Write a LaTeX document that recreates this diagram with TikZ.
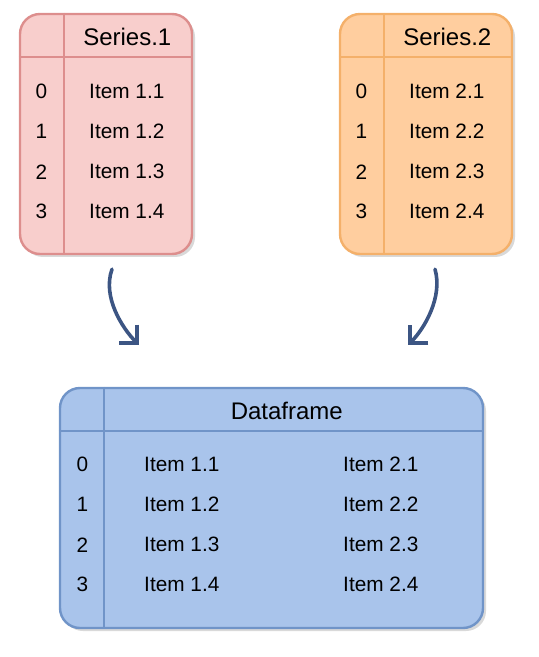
\documentclass[tikz,border=0pt]{standalone}
\usepackage{fontspec}
\setmainfont{Liberation Sans}
\usetikzlibrary{positioning}
\usetikzlibrary{shadows,arrows.meta}
\definecolor{redfill}{HTML}{F8CECC}
\definecolor{redline}{HTML}{DD8E8D}
\definecolor{orangefill}{HTML}{FFCE9F}
\definecolor{orangeline}{HTML}{F4B06A}
\definecolor{bluefill}{HTML}{A9C4EB}
\definecolor{blueline}{HTML}{7094C8}
\definecolor{arrowblue}{HTML}{3C5583}
\tikzset{auto, >={Straight Barb[length=6.5pt,width=13pt]}, node distance=20pt, font=\fontsize{10.4}{10.4}\selectfont}
\tikzstyle{table} = [draw, rectangle, rounded corners=10pt, line width=1.2pt, inner sep=0pt, drop shadow={shadow xshift=1.5pt, shadow yshift=-1.5pt, fill=black!25, opacity=0.6}]
\tikzstyle{cell} = [inner sep=0pt, on grid, anchor=center]
\tikzstyle{head} = [cell, font=\fontsize{12}{12}\selectfont]
\tikzstyle{rule} = [line width=1.2pt]
\tikzstyle{link} = [->, line width=1.8pt, line cap=round, line join=round, draw=arrowblue]

\begin{document}
\begin{tikzpicture}
    \useasboundingbox (0,0) rectangle (269.5pt,-328.5pt);
    % the two series
    \node [table, fill=redfill, draw=redline, minimum width=86pt, minimum height=120pt] (s1) at (53pt,-67pt) {};
    \node [table, fill=orangefill, draw=orangeline, minimum width=86pt, minimum height=120pt] (s2) at (213pt,-67pt) {};
    \node [table, fill=bluefill, draw=blueline, minimum width=211.5pt, minimum height=120pt] (df) at (135.75pt,-254pt) {};
    \draw [rule, redline] ([xshift=22.5pt]s1.north west) -- ([xshift=22.5pt]s1.south west);
    \draw [rule, redline] ([yshift=-22pt]s1.north west) -- ([yshift=-22pt]s1.north east);
    \draw [rule, orangeline] ([xshift=22.5pt]s2.north west) -- ([xshift=22.5pt]s2.south west);
    \draw [rule, orangeline] ([yshift=-22pt]s2.north west) -- ([yshift=-22pt]s2.north east);
    \draw [rule, blueline] ([xshift=22.5pt]df.north west) -- ([xshift=22.5pt]df.south west);
    \draw [rule, blueline] ([yshift=-22pt]df.north west) -- ([yshift=-22pt]df.north east);

    \node [head] (s1_head) at ([xshift=54.25pt,yshift=-12.3pt]s1.north west) {Series.1};
    \node [cell] (s1_i0) at ([xshift=11.25pt,yshift=-39.5pt]s1.north west) {0};
    \node [cell, below=of s1_i0] (s1_i1) {1};
    \node [cell, below=of s1_i1] (s1_i2) {2};
    \node [cell, below=of s1_i2] (s1_i3) {3};
    \node [cell, right=42.75pt of s1_i0] (s1_v0) {Item 1.1};
    \node [cell, right=42.75pt of s1_i1] (s1_v1) {Item 1.2};
    \node [cell, right=42.75pt of s1_i2] (s1_v2) {Item 1.3};
    \node [cell, right=42.75pt of s1_i3] (s1_v3) {Item 1.4};

    \node [head] (s2_head) at ([xshift=54.25pt,yshift=-12.3pt]s2.north west) {Series.2};
    \node [cell] (s2_i0) at ([xshift=11.25pt,yshift=-39.5pt]s2.north west) {0};
    \node [cell, below=of s2_i0] (s2_i1) {1};
    \node [cell, below=of s2_i1] (s2_i2) {2};
    \node [cell, below=of s2_i2] (s2_i3) {3};
    \node [cell, right=42.75pt of s2_i0] (s2_v0) {Item 2.1};
    \node [cell, right=42.75pt of s2_i1] (s2_v1) {Item 2.2};
    \node [cell, right=42.75pt of s2_i2] (s2_v2) {Item 2.3};
    \node [cell, right=42.75pt of s2_i3] (s2_v3) {Item 2.4};

    % the dataframe
    \node [head] (df_head) at ([xshift=114pt,yshift=-12pt]df.north west) {Dataframe};
    \node [cell] (df_i0) at ([xshift=11.75pt,yshift=-39pt]df.north west) {0};
    \node [cell, below=of df_i0] (df_i1) {1};
    \node [cell, below=of df_i1] (df_i2) {2};
    \node [cell, below=of df_i2] (df_i3) {3};
    \node [cell, right=49.75pt of df_i0] (df_a0) {Item 1.1};
    \node [cell, right=49.75pt of df_i1] (df_a1) {Item 1.2};
    \node [cell, right=49.75pt of df_i2] (df_a2) {Item 1.3};
    \node [cell, right=49.75pt of df_i3] (df_a3) {Item 1.4};
    \node [cell, right=99.5pt of df_a0] (df_b0) {Item 2.1};
    \node [cell, right=99.5pt of df_a1] (df_b1) {Item 2.2};
    \node [cell, right=99.5pt of df_a2] (df_b2) {Item 2.3};
    \node [cell, right=99.5pt of df_a3] (df_b3) {Item 2.4};

    \coordinate (from_s1) at ([xshift=3pt,yshift=-7pt]s1.south);
    \coordinate (to_s1) at ([xshift=40pt,yshift=21pt]df.north west);
    \coordinate (from_s2) at ([xshift=4.5pt,yshift=-7pt]s2.south);
    \coordinate (to_s2) at ([xshift=-38pt,yshift=21pt]df.north east);
    \draw [link] (from_s1) .. controls ([xshift=-5pt,yshift=-14pt]from_s1) and ([xshift=-8pt,yshift=8pt]to_s1) .. (to_s1);
    \draw [link] (from_s2) .. controls ([xshift=4pt,yshift=-14pt]from_s2) and ([xshift=8pt,yshift=8pt]to_s2) .. (to_s2);
\end{tikzpicture}
\end{document}
